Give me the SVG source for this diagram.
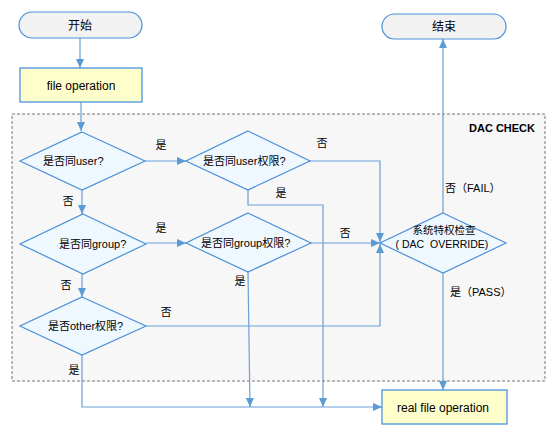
<svg xmlns="http://www.w3.org/2000/svg" width="555" height="434" viewBox="0 0 555 434">
<style>
text{font-family:"Liberation Sans","Noto Sans CJK SC",sans-serif;font-size:11px;fill:#000}
text.big{font-size:12px}
text.sm{font-size:10.5px}
text.hdr{font-weight:bold;font-size:11px}
.term{fill:#f2f2f2;stroke:#4a90d9;stroke-width:1.2}
.proc{fill:#ffffcc;stroke:#3a8ae0;stroke-width:1.2}
.dec{fill:#f0f8ff;stroke:#4a90d9;stroke-width:1.2}
.con{fill:none;stroke:#6a9fd8;stroke-width:1.2}
</style>
<defs>
<marker id="ah" markerUnits="userSpaceOnUse" markerWidth="10" markerHeight="8" refX="9" refY="4" orient="auto">
<path d="M0,0 L9,4 L0,8 Z" fill="#5b9bd5"/>
</marker>
</defs>
<rect x="12" y="114" width="533" height="267" fill="#f7f7f7" stroke="#777" stroke-width="1" stroke-dasharray="3,2"/>
<text class="hdr" x="535" y="132" text-anchor="end">DAC CHECK</text>
<g id="connectors">
<path class="con" d="M80,38 V68" marker-end="url(#ah)"/>
<path class="con" d="M81,102 V131" marker-end="url(#ah)"/>
<path class="con" d="M145,161 H186" marker-end="url(#ah)"/>
<path class="con" d="M82,190 V214" marker-end="url(#ah)"/>
<path class="con" d="M310,161 H380 V242" marker-end="url(#ah)"/>
<path class="con" d="M248,190 V205 H323 V407" marker-end="url(#ah)"/>
<path class="con" d="M146,243 H186" marker-end="url(#ah)"/>
<path class="con" d="M82,274 V297" marker-end="url(#ah)"/>
<path class="con" d="M311,243 H380" marker-end="url(#ah)"/>
<path class="con" d="M248,272 L250,407" marker-end="url(#ah)"/>
<path class="con" d="M146,326 H380 V244" marker-end="url(#ah)"/>
<path class="con" d="M82,355 V407 H382" marker-end="url(#ah)"/>
<path class="con" d="M443,213 V39" marker-end="url(#ah)"/>
<path class="con" d="M443,273 V390" marker-end="url(#ah)"/>
<text x="161" y="149" text-anchor="middle">是</text>
<text x="68" y="205" text-anchor="middle">否</text>
<text x="322" y="147" text-anchor="middle">否</text>
<text x="281" y="197" text-anchor="middle">是</text>
<text x="161" y="232" text-anchor="middle">是</text>
<text x="66" y="289" text-anchor="middle">否</text>
<text x="345" y="237" text-anchor="middle">否</text>
<text x="240" y="285" text-anchor="middle">是</text>
<text x="166" y="316" text-anchor="middle">否</text>
<text x="74" y="374" text-anchor="middle">是</text>
<text x="445" y="192">否（FAIL）</text>
<text x="450" y="296">是（PASS）</text>
</g>
<g id="start">
<rect class="term" x="19" y="12" width="123" height="26" rx="13"/>
<text class="big" x="80" y="29.5" text-anchor="middle">开始</text>
</g>
<g id="end">
<rect class="term" x="382" y="14" width="124" height="25" rx="12.5"/>
<text class="big" x="444" y="31" text-anchor="middle">结束</text>
</g>
<g id="fileop">
<rect class="proc" x="20" y="68" width="122" height="34"/>
<text class="big" x="81" y="89.5" text-anchor="middle">file operation</text>
</g>
<g id="realop">
<rect class="proc" x="382" y="390" width="125" height="34"/>
<text class="big" x="443" y="411.5" text-anchor="middle">real file operation</text>
</g>
<g id="d1">
<path class="dec" d="M82,132 L145,161 L82,190 L20,161 Z"/>
<text x="43" y="165">是否同user?</text>
</g>
<g id="d2">
<path class="dec" d="M248,131 L310,161 L248,190 L186,161 Z"/>
<text x="203" y="165">是否同user权限?</text>
</g>
<g id="d3">
<path class="dec" d="M83,214 L146,244 L83,274 L20,244 Z"/>
<text x="59" y="248">是否同group?</text>
</g>
<g id="d4">
<path class="dec" d="M248,213 L311,243 L248,272 L186,243 Z"/>
<text x="201" y="247">是否同group权限?</text>
</g>
<g id="d5">
<path class="dec" d="M82,297 L146,326 L82,355 L20,326 Z"/>
<text x="48" y="330">是否other权限?</text>
</g>
<g id="dac">
<path class="dec" d="M443,213 L506,243 L443,273 L380,243 Z"/>
<text class="sm" x="444" y="234" text-anchor="middle">系统特权检查</text>
<text class="sm" x="442" y="247.5" text-anchor="middle" xml:space="preserve">( DAC  OVERRIDE)</text>
</g>
</svg>
